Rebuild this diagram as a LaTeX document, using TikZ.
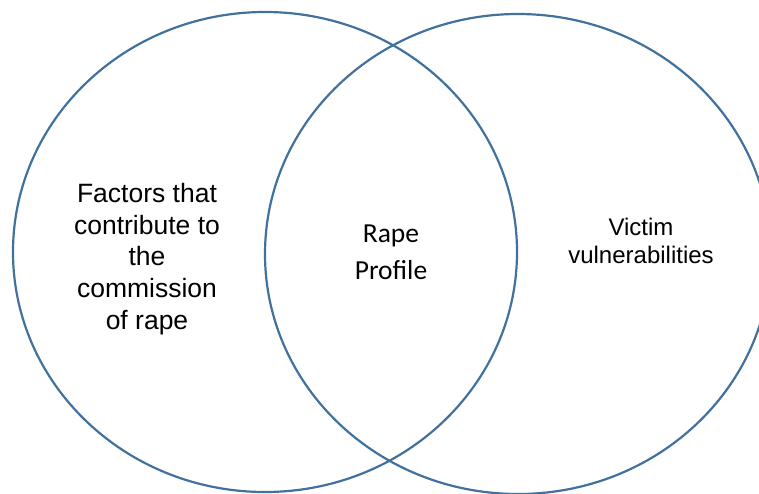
\documentclass[tikz,border=0pt]{standalone}
\usepackage{fontspec}
\setmainfont{Liberation Sans}
\newfontfamily\calibrifont{Carlito}
\usetikzlibrary{shapes.geometric}
\definecolor{setblue}{HTML}{41719C}
\begin{document}
\begin{tikzpicture}[
  x=1pt, y=-1pt,
  setring/.style={
    draw=setblue,
    line width=2.2pt,
    ellipse,
    inner sep=0pt
  },
  settext/.style={
    align=center,
    inner sep=0pt,
    text=black
  }
]
\useasboundingbox (0,0) rectangle (759,493);
\node[setring, minimum width=504pt, minimum height=480pt] (leftset) at (265,252) {};
\node[setring, minimum width=506pt, minimum height=480pt] (rightset) at (518,254) {};

\node[settext, font=\fontsize{26.5}{31.7}\selectfont] (factors) at (147,259)
  {Factors that\\contribute to\\the\\commission\\of rape};
\node[settext, font=\calibrifont\fontsize{27.5}{37}\selectfont] (profile) at (391,252)
  {Rape\\Profile};
\node[settext, font=\fontsize{24}{28}\selectfont] (victim) at (641,241)
  {Victim\\vulnerabilities};
\end{tikzpicture}
\end{document}
